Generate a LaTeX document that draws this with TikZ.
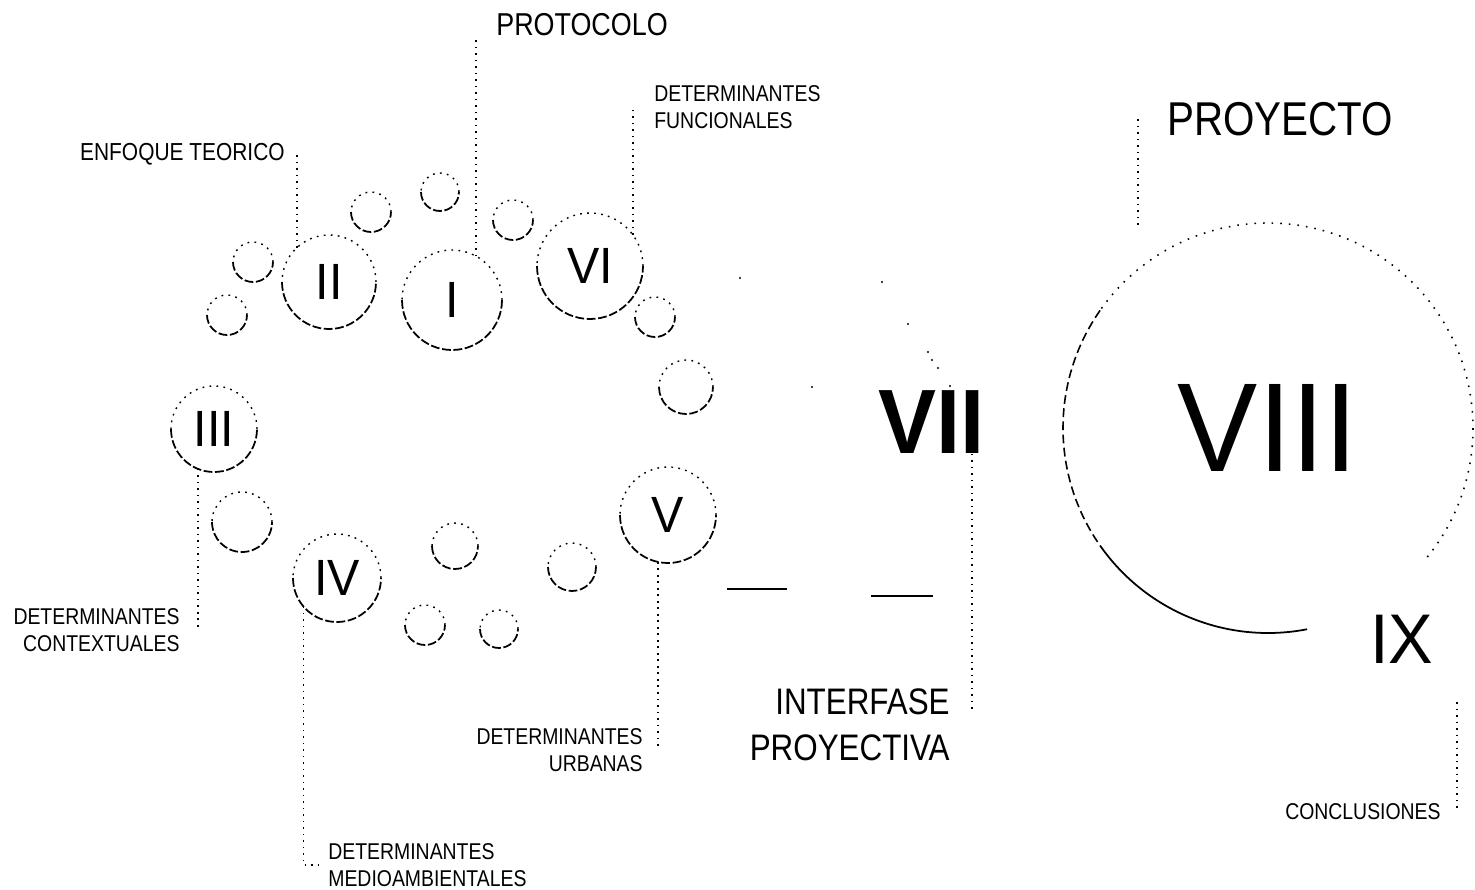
\documentclass[tikz,border=0pt]{standalone}
\usepackage{fontspec}
\setmainfont[FakeStretch=0.85]{Liberation Sans}
\newfontfamily\numfont[FakeStretch=0.95]{Liberation Sans}
\tikzset{
  ringup/.style={line width=0.8pt, dash pattern=on 1pt off 3pt},
  ringdown/.style={line width=1pt, dash pattern=on 5pt off 1.5pt},
  numring/.style={circle, inner sep=0pt, outer sep=0pt, font=\numfont\fontsize{29}{29}\selectfont},
  leader/.style={line width=0.9pt, dash pattern=on 0.9pt off 2.8pt},
  lab/.style={inner sep=0pt, font=\fontsize{13}{15.5}\selectfont},
  dotarc/.style={line width=0.9pt, dash pattern=on 0.9pt off 4pt},
  dasharc/.style={line width=0.9pt, dash pattern=on 5pt off 2.5pt}
}
% burbuja: x, y, radio
\newcommand\bubble[3]{%
  \draw[ringup] ({#1+#3},#2) arc[start angle=0,end angle=180,radius=#3];
  \draw[ringdown] ({#1-#3},#2) arc[start angle=180,end angle=360,radius=#3];}
% etapa numerada: nombre, x, y, radio, texto
\newcommand\ringnode[5]{%
  \node[numring, minimum size={2*#4*0.2mm}] (#1) at (#2,#3) {#5};
  \bubble{#2}{#3}{#4}}
\begin{document}
\begin{tikzpicture}[x=0.2mm,y=0.2mm]
\useasboundingbox (0,0) rectangle (1475,-890);
% etapas
\ringnode{c1}{452}{-300}{50}{I}
\ringnode{c2}{329}{-282}{47}{II}
\ringnode{c3}{214}{-429}{43}{III}
\ringnode{c4}{337}{-578}{44}{IV}
\ringnode{c5}{668}{-515}{48}{V}
\ringnode{c6}{590}{-266}{53}{VI}
% burbujas
\bubble{253}{-262}{20}
\bubble{227}{-315}{20}
\bubble{371}{-212}{20}
\bubble{440}{-192}{19}
\bubble{513}{-220}{20}
\bubble{655}{-317}{20}
\bubble{686}{-387}{27}
\bubble{242}{-522}{30}
\bubble{455}{-546}{23}
\bubble{425}{-625}{20}
\bubble{499}{-629}{19}
\bubble{572}{-567}{24}
% textos
\node[lab, font=\fontsize{18}{18}\selectfont, anchor=north west] (prot) at (496,-13) {PROTOCOLO};
\node[lab, font=\fontsize{14}{14}\selectfont, anchor=north east] (enf) at (285,-143) {ENFOQUE TEORICO};
\node[lab, align=left, anchor=north west] (func) at (654,-85) {DETERMINANTES\\FUNCIONALES};
\node[lab, align=right, anchor=north east] (ctx) at (180,-608) {DETERMINANTES\\CONTEXTUALES};
\node[lab, align=left, anchor=north west] (med) at (328,-843) {DETERMINANTES\\MEDIOAMBIENTALES};
\node[lab, align=right, anchor=north east] (urb) at (643,-728) {DETERMINANTES\\URBANAS};
\node[lab, font=\fontsize{21}{26.5}\selectfont, align=right, anchor=north east] (iface) at (950,-688) {INTERFASE\\PROYECTIVA};
\node[lab, anchor=north east] (concl) at (1441,-803) {CONCLUSIONES};
\node[lab, font=\fontsize{27}{27}\selectfont, anchor=north west] (proy) at (1167,-102) {PROYECTO};
\node[lab, font=\numfont\bfseries\fontsize{52}{52}\selectfont, anchor=north west] (vii) at (878,-390) {VII};
\node[lab, font=\numfont\fontsize{40}{40}\selectfont, anchor=north west] (ix) at (1370,-615) {IX};
% proyecto
\node[circle, inner sep=0pt, outer sep=0pt, minimum size=82mm, font=\numfont\fontsize{72}{72}\selectfont] (c8) at (1268,-428) {VIII};
\draw[dotarc] (c8.-39) arc[start angle=-39, end angle=145, radius=205];
\draw[dasharc] (c8.145) arc[start angle=145, end angle=215, radius=205];
\draw[line width=1pt] (c8.215) arc[start angle=215, end angle=281, radius=205];
% guias
\draw[leader] (c1.61) -- (c1.61 |- prot.base);
\draw[leader] (c2.133) -- (c2.133 |- enf.east);
\draw[leader] (c6.36) -- (c6.36 |- func.east);
\draw[leader] (c3.-112) -- (c3.-112 |- ctx.east);
\draw[leader] (c4.-140) |- ([xshift=-1mm]med.west);
\draw[leader] (c5.-102) -- (c5.-102 |- urb.east);
\coordinate (v7) at ([xshift=-2.6mm]vii.south east);
\draw[leader] (v7) -- (v7 |- iface.north) -- +(0,-22);
\coordinate (p8) at (1138,-227);
\draw[leader] (p8 |- proy.west) -- (p8);
\coordinate (p9) at (1457,-702);
\draw[leader] (p9) -- (p9 |- concl.east);
% interfase
\draw[line width=1.5pt] (727,-589) -- (787,-589);
\draw[line width=1.1pt] (871,-596) -- (933,-596);
\fill (740,-278) circle (1.2);
\fill (882,-282) circle (1.2);
\fill (908,-324) circle (1.2);
\fill (928,-352) circle (1.2);
\fill (932,-360) circle (1.2);
\fill (938,-368) circle (1.2);
\fill (950,-386) circle (1.2);
\fill (812,-387) circle (1.2);
\end{tikzpicture}
\end{document}
